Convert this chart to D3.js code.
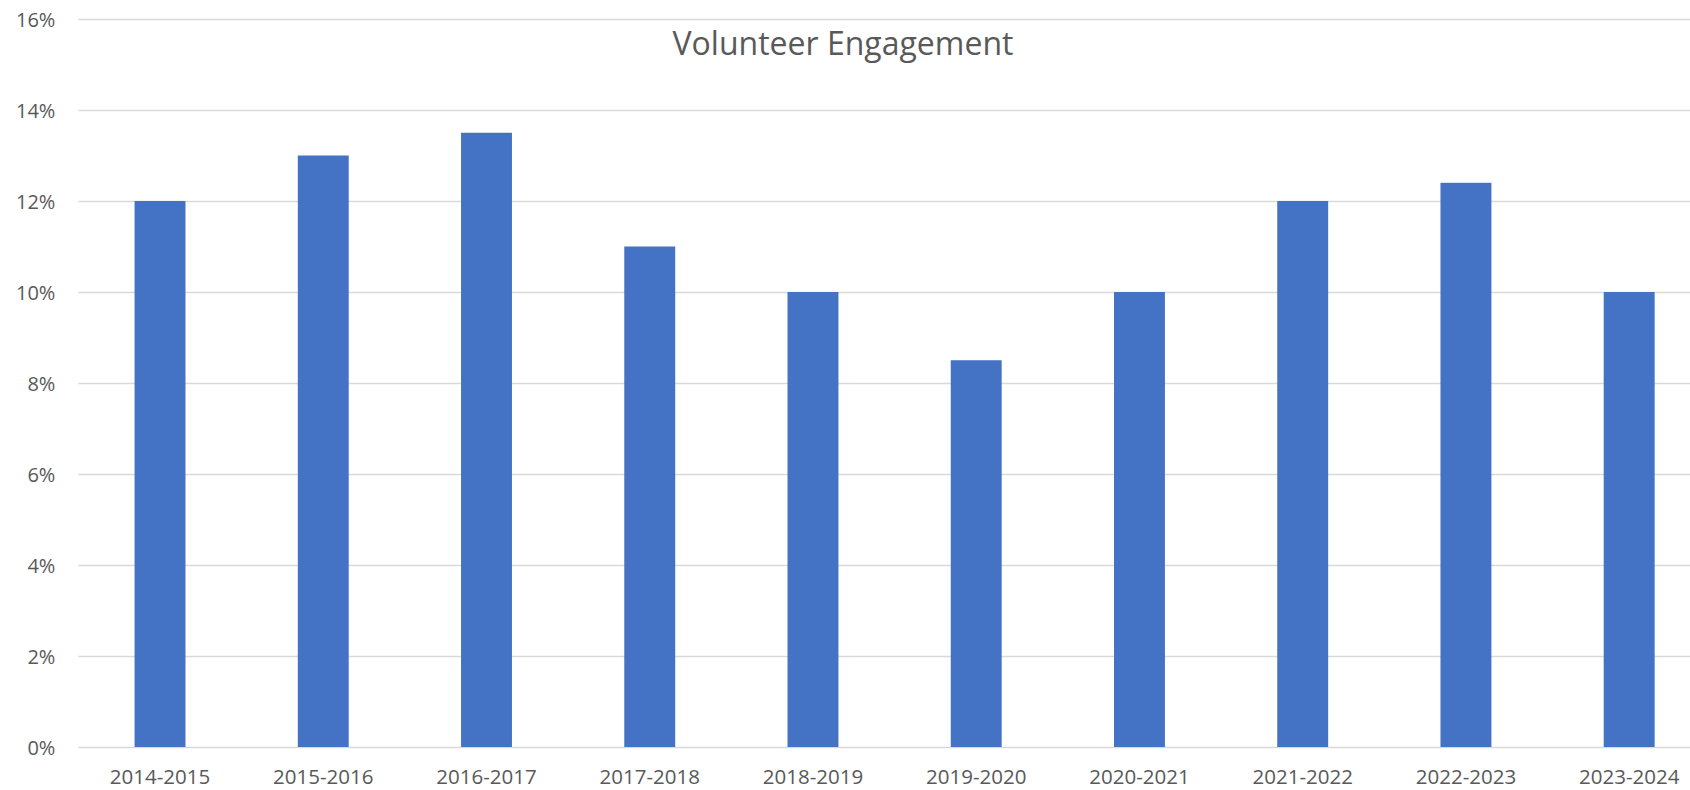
<!DOCTYPE html>
<html>
<head>
<meta charset="utf-8">
<script src="https://cdn.jsdelivr.net/npm/d3@7"></script>
<style>
  html, body { margin: 0; padding: 0; background: #fff; overflow: hidden; }
  svg { display: block; font-family: "Open Sans", "Liberation Sans", sans-serif; }
</style>
</head>
<body>
<svg id="chart" width="1690" height="790"></svg>
<script>
// Volunteer engagement rate by year
const categories = ["2014-2015", "2015-2016", "2016-2017", "2017-2018", "2018-2019",
                    "2019-2020", "2020-2021", "2021-2022", "2022-2023", "2023-2024"];
const engagement = [12, 13, 13.5, 11, 10, 8.5, 10, 12, 12.4, 10];
const yTicks = [0, 2, 4, 6, 8, 10, 12, 14, 16];
const chartTitle = "Volunteer Engagement";

const fontFamily = '"Open Sans", "Liberation Sans", sans-serif';
const textColor = "#595959";

const svg = d3.select("#chart");

// plot area (runs slightly past the right edge of the canvas)
const plotLeft = 78.4, plotTop = 19, plotBottom = 747;
const plotWidth = 1632.4;

const x = d3.scaleBand()
  .domain(categories)
  .range([plotLeft, plotLeft + plotWidth])
  .paddingInner(0.688)
  .paddingOuter(0.344);

const y = d3.scaleLinear().domain([0, 16]).range([plotBottom, plotTop]);

// horizontal gridlines with percent labels
const yAxis = d3.axisLeft(y)
  .tickValues(yTicks)
  .tickFormat(d => d + "%")
  .tickSize(-plotWidth)
  .tickPadding(23);

const gy = svg.append("g")
  .attr("transform", `translate(${plotLeft},0)`)
  .call(yAxis)
  .attr("font-family", fontFamily);
gy.select(".domain").remove();
gy.selectAll(".tick line").attr("stroke", "#d9d9d9").attr("stroke-width", 1.5);
gy.selectAll(".tick text")
  .attr("fill", textColor)
  .style("font-size", "20px")
  .attr("dy", "0.35em");

// bars
svg.append("g")
  .selectAll("rect")
  .data(categories.map((c, i) => ({ c, v: engagement[i] })))
  .join("rect")
  .attr("x", d => x(d.c))
  .attr("y", d => y(d.v))
  .attr("width", x.bandwidth())
  .attr("height", d => y(0) - y(d.v))
  .attr("fill", "#4472c4");

// category axis
const xAxis = d3.axisBottom(x).tickSize(0).tickPadding(22);
const gx = svg.append("g")
  .attr("transform", `translate(0,${plotBottom})`)
  .call(xAxis)
  .attr("font-family", fontFamily);
gx.select(".domain").remove();
gx.selectAll(".tick text")
  .attr("fill", textColor)
  .style("font-size", "20.5px");

// title
svg.append("text")
  .attr("x", 843)
  .attr("y", 55)
  .attr("text-anchor", "middle")
  .attr("fill", textColor)
  .style("font-size", "32px")
  .text(chartTitle);
</script>
</body>
</html>
